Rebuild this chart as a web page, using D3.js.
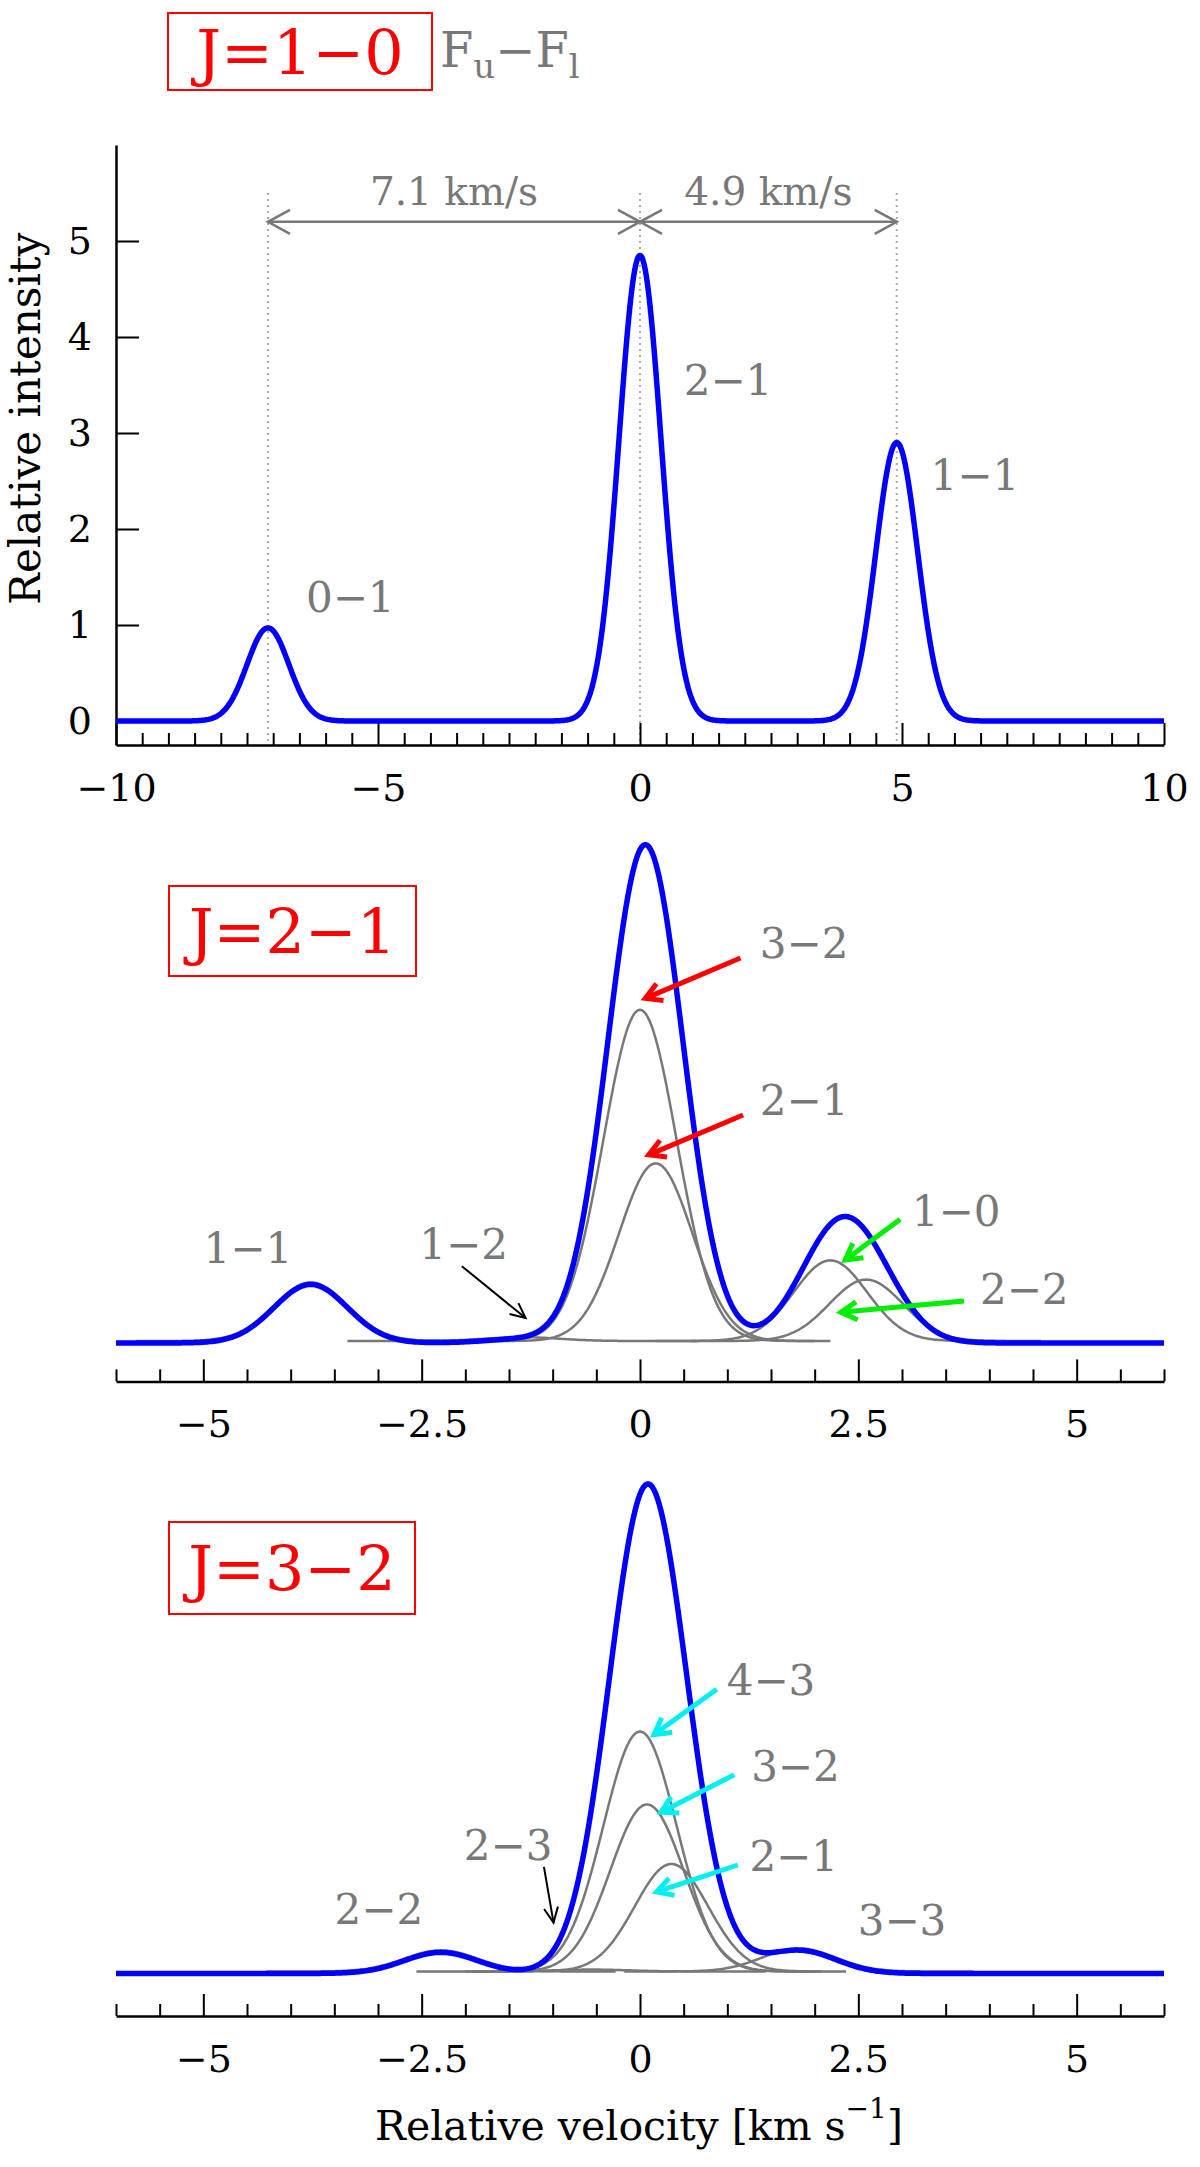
<!DOCTYPE html>
<html>
<head>
<meta charset="utf-8">
<script src="https://cdn.jsdelivr.net/npm/d3@7"></script>
<style>
  body { margin: 0; background: #fff; }
  svg text { font-family: "DejaVu Serif", "Liberation Serif", serif; }
</style>
</head>
<body>
<svg id="chart" width="1200" height="2167"></svg>
<script>
// hyperfine components: velocity (km/s), peak (relative intensity)
const hf10Labels = ['0−1', '2−1', '1−1'];
const hf10Velocity = [-7.1, 0, 4.9];
const hf10Peak = [0.97, 4.85, 2.9];
const hf10Sigma = 0.40;

const hf21Labels = ['1−1', '1−2', '3−2', '2−1', '1−0', '2−2'];
const hf21Velocity = [-3.77, -1.35, 0.0, 0.18, 2.18, 2.59];
const hf21Peak = [0.61, 0.04, 3.45, 1.85, 0.84, 0.64];
const hf21Sigma = 0.42;

const hf32Labels = ['2−2', '2−3', '4−3', '3−2', '2−1', '3−3'];
const hf32Velocity = [-2.28, -0.56, 0.0, 0.08, 0.36, 1.82];
const hf32Peak = [0.22, 0.02, 2.50, 1.74, 1.12, 0.24];
const hf32Sigma = 0.42;

const xTicksWide = [-10, -5, 0, 5, 10];
const xTicksNarrow = [-5, -2.5, 0, 2.5, 5];
const yTicks10 = [0, 1, 2, 3, 4, 5];

const BLUE = '#0000ff', GREY = '#787878', RED = '#ff0000',
  GREEN = '#00ee00', CYAN = '#00f0f0';

const svg = d3.select('#chart');

const xWide = d3.scaleLinear().domain([-10, 10]).range([116, 1164]);
const xNarrow = d3.scaleLinear().domain([-6, 6]).range([116, 1164]);
const y10 = d3.scaleLinear().domain([-0.25, 6]).range([745, 145]);
const y21 = d3.scaleLinear().domain([-0.4, 5.5]).range([1381.4, 815]);
const y32 = d3.scaleLinear().domain([-0.443, 5.5]).range([2016, 1445.5]);

function gauss(v, c, p, s) {
  return p * Math.exp(-((v - c) * (v - c)) / (2 * s * s));
}

function profile(v, centers, peaks, s) {
  return d3.sum(centers, (c, i) => gauss(v, c, peaks[i], s));
}

function drawCurve(g, x, y, lo, hi, fn, color, width) {
  const pts = d3.range(lo, hi + 0.001, 0.02).map(v => [v, fn(v)]);
  g.append('path')
    .attr('d', d3.line().x(d => x(d[0])).y(d => y(d[1]))(pts))
    .attr('fill', 'none')
    .attr('stroke', color)
    .attr('stroke-width', width)
    .attr('stroke-linejoin', 'round');
}

function xAxis(g, x, y0, majors, minors) {
  const fmt = d3.format('~g');
  const major = g.append('g')
    .attr('transform', `translate(0,${y0})`)
    .call(d3.axisBottom(x).tickValues(majors).tickSizeInner(-22)
      .tickSizeOuter(0).tickPadding(29).tickFormat(fmt));
  major.attr('font-family', null).attr('font-size', 38);
  major.select('.domain').attr('stroke-width', 2.5);
  major.selectAll('.tick line').attr('stroke-width', 2);
  const minor = g.append('g')
    .attr('transform', `translate(0,${y0})`)
    .call(d3.axisBottom(x).tickValues(minors).tickSizeInner(-12)
      .tickSizeOuter(0).tickFormat(''));
  minor.select('.domain').remove();
  minor.selectAll('.tick line').attr('stroke-width', 2);
}

// arrow with open chevron head(s)
function arrow(g, x1, y1, x2, y2, color, width, len, half, both) {
  g.append('line')
    .attr('x1', x1).attr('y1', y1).attr('x2', x2).attr('y2', y2)
    .attr('stroke', color).attr('stroke-width', width);
  const head = (tx, ty, fx, fy) => {
    const a = Math.atan2(ty - fy, tx - fx);
    const bx = tx - len * Math.cos(a), by = ty - len * Math.sin(a);
    const px = -Math.sin(a) * half, py = Math.cos(a) * half;
    g.append('path')
      .attr('d', `M${bx + px},${by + py}L${tx},${ty}L${bx - px},${by - py}`)
      .attr('fill', 'none').attr('stroke', color)
      .attr('stroke-width', width).attr('stroke-linejoin', 'miter');
  };
  head(x2, y2, x1, y1);
  if (both) head(x1, y1, x2, y2);
}

function label(g, x, y, txt, size, color) {
  g.append('text')
    .attr('x', x).attr('y', y).attr('dy', '0.36em')
    .attr('text-anchor', 'middle')
    .attr('font-size', size)
    .attr('fill', color)
    .text(txt);
}

function titleBox(g, x0, y0, w, h, txt) {
  g.append('rect')
    .attr('x', x0).attr('y', y0).attr('width', w).attr('height', h)
    .attr('fill', 'none').attr('stroke', RED).attr('stroke-width', 2);
  label(g, x0 + w / 2, y0 + h / 2, txt, 62, RED);
}

/*
 * panel 1: J=1-0
 */
const p1 = svg.append('g');
titleBox(p1, 168, 13, 264, 77, 'J=1−0');
const fl = p1.append('text')
  .attr('x', 440).attr('y', 67)
  .attr('font-size', 48).attr('fill', GREY);
fl.append('tspan').text('F');
fl.append('tspan').attr('font-size', 34).attr('dy', 11).text('u');
fl.append('tspan').attr('dy', -11).text('−F');
fl.append('tspan').attr('font-size', 34).attr('dy', 11).text('l');

// dotted guides at the three components
p1.selectAll('line.guide')
  .data(hf10Velocity)
  .enter()
  .append('line')
  .attr('x1', d => xWide(d)).attr('x2', d => xWide(d))
  .attr('y1', y10(5.5)).attr('y2', y10(-0.25))
  .attr('stroke', '#aaaaaa').attr('stroke-width', 2)
  .attr('stroke-dasharray', '2,4');

xAxis(p1, xWide, y10(-0.25), xTicksWide,
  d3.range(-10, 10.01, 0.5).filter(v => v % 5 !== 0));

const yAx = p1.append('g')
  .attr('transform', `translate(${xWide(-10)},0)`)
  .call(d3.axisLeft(y10).tickValues(yTicks10).tickSizeInner(-23)
    .tickSizeOuter(0).tickPadding(24).tickFormat(d3.format('d')));
yAx.attr('font-family', null).attr('font-size', 38);
yAx.select('.domain').attr('stroke-width', 2.5);
yAx.selectAll('.tick line').attr('stroke-width', 2);

p1.append('text')
  .attr('transform', `translate(40,${y10(3.15)}) rotate(-90)`)
  .attr('text-anchor', 'middle')
  .attr('font-size', 42)
  .text('Relative intensity');

drawCurve(p1, xWide, y10, -10, 10,
  v => profile(v, hf10Velocity, hf10Peak, hf10Sigma), BLUE, 5.5);

// separation arrows
arrow(p1, xWide(hf10Velocity[0]), y10(5.2), xWide(hf10Velocity[1]), y10(5.2),
  GREY, 2.5, 22, 12, true);
arrow(p1, xWide(hf10Velocity[1]), y10(5.2), xWide(hf10Velocity[2]), y10(5.2),
  GREY, 2.5, 22, 12, true);
p1.append('text')
  .attr('x', xWide((hf10Velocity[0] + hf10Velocity[1]) / 2)).attr('y', y10(5.375))
  .attr('text-anchor', 'middle').attr('font-size', 39).attr('fill', GREY)
  .text('7.1 km/s');
p1.append('text')
  .attr('x', xWide((hf10Velocity[1] + hf10Velocity[2]) / 2)).attr('y', y10(5.375))
  .attr('text-anchor', 'middle').attr('font-size', 39).attr('fill', GREY)
  .text('4.9 km/s');

const p1Lab = [[-5.53, 1.29], [1.68, 3.55], [6.39, 2.56]];
hf10Labels.forEach((t, i) => {
  label(p1, xWide(p1Lab[i][0]), y10(p1Lab[i][1]), t, 42, GREY);
});

/*
 * panel 2: J=2-1
 */
const p2 = svg.append('g');
xAxis(p2, xNarrow, y21(-0.4), xTicksNarrow,
  d3.range(-6, 6.01, 0.5).filter(v => v % 2.5 !== 0));

const p2Comp = p2.append('g').attr('transform', 'translate(0,-2)');
hf21Velocity.forEach((c, i) => {
  drawCurve(p2Comp, xNarrow, y21, Math.max(-6, c - 2), Math.min(6, c + 2),
    v => gauss(v, c, hf21Peak[i], hf21Sigma), GREY, 2.5);
});
drawCurve(p2, xNarrow, y21, -6, 6,
  v => profile(v, hf21Velocity, hf21Peak, hf21Sigma), BLUE, 5.5);

titleBox(p2, 169, 886, 247, 90, 'J=2−1');

// label position [x, y] and arrow [x1, y1, x2, y2] in data units
const p2Lab = {
  '1−1': [-4.49, 0.99],
  '1−2': [-2.02, 1.03],
  '3−2': [1.88, 4.17],
  '2−1': [1.88, 2.53],
  '1−0': [3.62, 1.375],
  '2−2': [4.40, 0.5625]
};
const p2Arr = [
  ['1−2', -2.04, 0.80, -1.31, 0.26, '#000000', 2, 15, 7],
  ['3−2', 1.15, 4.01, 0.06, 3.59, RED, 5, 16, 9],
  ['2−1', 1.18, 2.375, 0.10, 1.96, RED, 5, 16, 9],
  ['1−0', 2.98, 1.29, 2.35, 0.865, GREEN, 5, 16, 9],
  ['2−2', 3.71, 0.4375, 2.30, 0.32, GREEN, 5, 16, 9]
];
hf21Labels.forEach(t => {
  label(p2, xNarrow(p2Lab[t][0]), y21(p2Lab[t][1]), t, 42, GREY);
});
p2Arr.forEach(a => {
  arrow(p2, xNarrow(a[1]), y21(a[2]), xNarrow(a[3]), y21(a[4]), a[5], a[6], a[7], a[8], false);
});

/*
 * panel 3: J=3-2
 */
const p3 = svg.append('g');
xAxis(p3, xNarrow, y32(-0.443), xTicksNarrow,
  d3.range(-6, 6.01, 0.5).filter(v => v % 2.5 !== 0));

const p3Comp = p3.append('g').attr('transform', 'translate(0,-2)');
hf32Velocity.forEach((c, i) => {
  drawCurve(p3Comp, xNarrow, y32, Math.max(-6, c - 2), Math.min(6, c + 2),
    v => gauss(v, c, hf32Peak[i], hf32Sigma), GREY, 2.5);
});
drawCurve(p3, xNarrow, y32, -6, 6,
  v => profile(v, hf32Velocity, hf32Peak, hf32Sigma), BLUE, 5.5);

titleBox(p3, 169, 1522, 246, 92, 'J=3−2');

const p3Lab = {
  '2−2': [-2.99, 0.67],
  '2−3': [-1.51, 1.34],
  '4−3': [1.50, 3.06],
  '3−2': [1.78, 2.16],
  '2−1': [1.76, 1.22],
  '3−3': [3.00, 0.56]
};
const p3Arr = [
  ['2−3', -1.10, 1.11, -0.99, 0.53, '#000000', 2, 15, 7],
  ['4−3', 0.88, 2.96, 0.16, 2.49, CYAN, 5, 16, 9],
  ['3−2', 1.08, 2.07, 0.24, 1.68, CYAN, 5, 16, 9],
  ['2−1', 1.12, 1.13, 0.19, 0.85, CYAN, 5, 16, 9]
];
hf32Labels.forEach(t => {
  label(p3, xNarrow(p3Lab[t][0]), y32(p3Lab[t][1]), t, 42, GREY);
});
p3Arr.forEach(a => {
  arrow(p3, xNarrow(a[1]), y32(a[2]), xNarrow(a[3]), y32(a[4]), a[5], a[6], a[7], a[8], false);
});

const xl = svg.append('text')
  .attr('x', 639).attr('y', 2140)
  .attr('text-anchor', 'middle')
  .attr('font-size', 41);
xl.append('tspan').text('Relative velocity [km s');
xl.append('tspan').attr('font-size', 28).attr('dy', -22).text('−1');
xl.append('tspan').attr('dy', 22).text(']');
</script>
</body>
</html>
